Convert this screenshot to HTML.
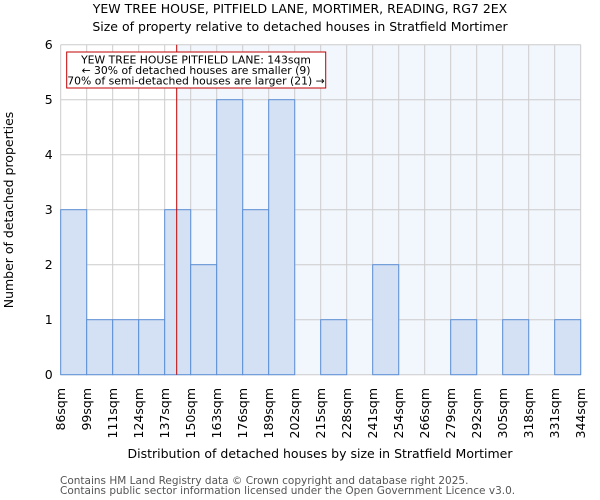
<!DOCTYPE html>
<html><head><meta charset="utf-8"><style>
body{margin:0;background:#fff;}
svg{display:block;font-family:"DejaVu Sans","Liberation Sans",sans-serif;}
</style></head><body>
<svg id="chart" width="600" height="500" viewBox="0 0 600 500" xmlns="http://www.w3.org/2000/svg">
<text x="300" y="13" text-anchor="middle" font-size="12.5" fill="#000">YEW TREE HOUSE, PITFIELD LANE, MORTIMER, READING, RG7 2EX</text>
<text x="300" y="31" text-anchor="middle" font-size="12.5" fill="#000">Size of property relative to detached houses in Stratfield Mortimer</text>
<g id="plot"></g>
<text x="320" y="458" text-anchor="middle" font-size="12.5">Distribution of detached houses by size in Stratfield Mortimer</text>
<text transform="translate(13,210) rotate(-90)" text-anchor="middle" font-size="12.5">Number of detached properties</text>
<text x="60" y="484" font-size="10.5" fill="#555">Contains HM Land Registry data © Crown copyright and database right 2025.</text>
<text x="60" y="494" font-size="10.5" fill="#555">Contains public sector information licensed under the Open Government Licence v3.0.</text>
</svg>
<script>
const binLabels=["86sqm","99sqm","111sqm","124sqm","137sqm","150sqm","163sqm","176sqm","189sqm","202sqm","215sqm","228sqm","241sqm","254sqm","266sqm","279sqm","292sqm","305sqm","318sqm","331sqm","344sqm"];
const binEdges=[86,99,111,124,137,150,163,176,189,202,215,228,241,254,266,279,292,305,318,331,344];
const counts=[3,1,1,1,3,2,5,3,5,0,1,0,2,0,0,1,0,1,0,1];
const yTicks=[0,1,2,3,4,5,6];
const markerValue=143;

const NS="http://www.w3.org/2000/svg";
const L=60.7,R=580.7,T=44.7,B=374.7,yMax=6;
const n=counts.length,bw=(R-L)/n;
const xIdx=i=>L+i*bw;
const yS=v=>B-(v/yMax)*(B-T);
function xVal(v){for(let i=0;i<binEdges.length-1;i++){if(v>=binEdges[i]&&v<=binEdges[i+1])return xIdx(i+(v-binEdges[i])/(binEdges[i+1]-binEdges[i]));}return L;}
const g=document.getElementById('plot');
function mk(tag,attrs){const e=document.createElementNS(NS,tag);for(const k in attrs)e.setAttribute(k,attrs[k]);g.appendChild(e);return e;}
const mx=xVal(markerValue);
let e=mk('rect',{x:mx,y:T,width:R-mx,height:B-T,fill:'#f2f6fd'});


yTicks.forEach(t=>{
 let l=mk('line',{x1:L,x2:R,y1:yS(t),y2:yS(t),stroke:'#cccccc','stroke-width':1});
 
 
 let tx=mk('text',{x:L-8,y:yS(t)+4.5,'text-anchor':'end','font-size':12.5});
 tx.textContent=t;
 
 
});
binLabels.forEach((lab,i)=>{
 let l=mk('line',{x1:xIdx(i),x2:xIdx(i),y1:T,y2:B,stroke:'#cccccc','stroke-width':1});
 
 
 let tx=mk('text',{transform:`translate(${xIdx(i)+4.5},388) rotate(-90)`,'text-anchor':'end','font-size':12.5});
 tx.textContent=lab;
 
 
});
counts.forEach((c,i)=>{
 let r=mk('rect',{x:xIdx(i),y:yS(c),width:bw,height:B-yS(c),fill:'#d4e0f3',stroke:'#5b8fd6','stroke-width':1});
 
 
});
let ml=mk('line',{x1:mx,x2:mx,y1:T,y2:B,stroke:'#c00000','stroke-width':1});


let box=mk('rect',{x:66.7,y:52,width:259,height:36,fill:'#fff',stroke:'#c00000','stroke-width':1});


["YEW TREE HOUSE PITFIELD LANE: 143sqm","← 30% of detached houses are smaller (9)","70% of semi-detached houses are larger (21) →"].forEach((s,k)=>{
 let t=mk('text',{x:196,y:63.5+k*10.5,'text-anchor':'middle','font-size':10.8});
 t.textContent=s;
 
 
});
</script>
</body></html>
